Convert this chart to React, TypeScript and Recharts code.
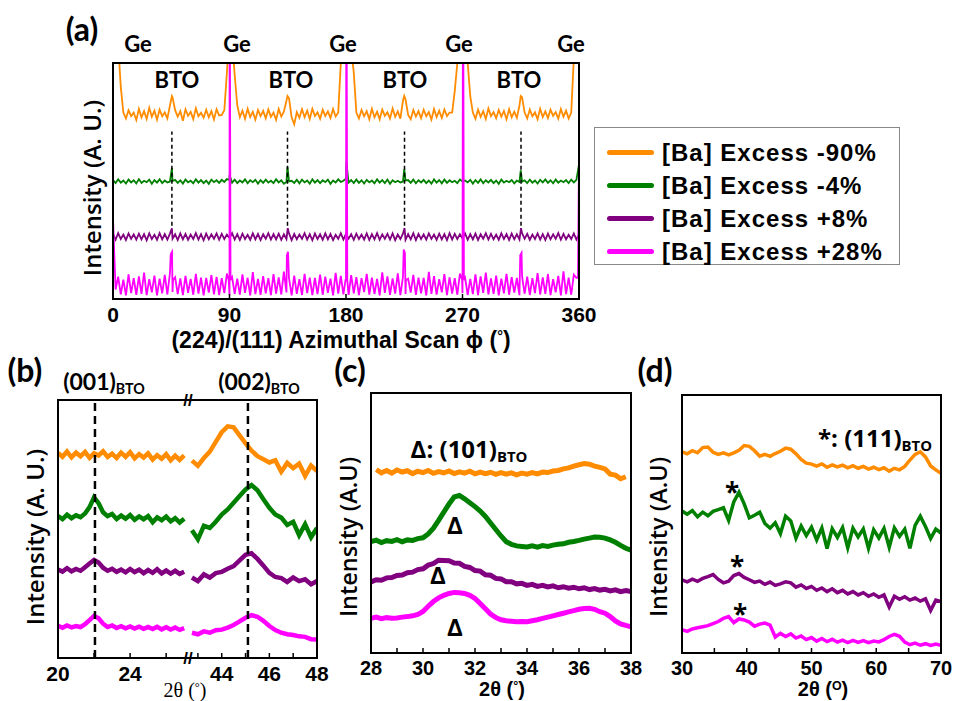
import React from "react";
import { LineChart, Line, XAxis, YAxis, ReferenceLine, Legend } from "recharts";

type Pt = { x: number; y: number | null };
type Box = { left: number; top: number; width: number; height: number };

const seriesNames = ["[Ba] Excess -90%", "[Ba] Excess -4%", "[Ba] Excess +8%", "[Ba] Excess +28%"];
const seriesColors = ["#ff8c00", "#008000", "#800080", "#ff00ff"];

// (a) azimuthal phi scan, offset traces (0 = frame bottom, 100 = frame top)
const phiGrid = [
  0, 2, 4, 6, 8, 10, 12, 14, 16, 18, 20, 22, 24, 26, 28, 30, 32, 34, 36, 38,
  40, 42, 44, 46, 48, 50, 52, 54, 56, 58, 60, 62, 64, 66, 68, 70, 72, 74, 76, 78,
  80, 82, 84, 86, 88, 90, 92, 94, 96, 98, 100, 102, 104, 106, 108, 110, 112, 114, 116, 118,
  120, 122, 124, 126, 128, 130, 132, 134, 136, 138, 140, 142, 144, 146, 148, 150, 152, 154, 156, 158,
  160, 162, 164, 166, 168, 170, 172, 174, 176, 178, 180, 182, 184, 186, 188, 190, 192, 194, 196, 198,
  200, 202, 204, 206, 208, 210, 212, 214, 216, 218, 220, 222, 224, 226, 228, 230, 232, 234, 236, 238,
  240, 242, 244, 246, 248, 250, 252, 254, 256, 258, 260, 262, 264, 266, 268, 270, 272, 274, 276, 278,
  280, 282, 284, 286, 288, 290, 292, 294, 296, 298, 300, 302, 304, 306, 308, 310, 312, 314, 316, 318,
  320, 322, 324, 326, 328, 330, 332, 334, 336, 338, 340, 342, 344, 346, 348, 350, 352, 354, 356, 358,
  360,
];
const phiOrange = [
  125, 118, 108, 90, 79, 76.5, 80, 77.5, 79, 75.8,
  80.5, 77, 79.6, 76.3, 81, 77.2, 79.8, 76, 80.2, 77.4,
  79.1, 76.5, 82, 85.5, 80, 77.2, 79.6, 75.5, 80.4, 77.6,
  79.3, 76.2, 80.8, 77.4, 78.9, 76.8, 80.2, 77, 79.6, 76.1,
  80.4, 77.8, 78, 80, 96, 114, 110, 95, 82, 77,
  79.8, 76.4, 80.6, 77.1, 79.3, 76, 80.1, 77.5, 79.7, 76.6,
  80.3, 77.2, 79, 75.9, 80.5, 77.3, 79.4, 84, 85, 77,
  74, 79.2, 76.8, 80.4, 77.1, 79.8, 76.3, 80.6, 77.5, 79.1,
  76.4, 80.2, 77.6, 79.5, 76.7, 80.5, 77.3, 79, 100, 115,
  125, 118, 106, 96, 79, 76.5, 80.1, 77.4, 79.6, 76.2,
  80.6, 77, 79.4, 76.1, 80.3, 77.6, 79.1, 76.5, 80.7, 77.2,
  79.5, 76.4, 84, 84.5, 78, 76.2, 80.1, 77.3, 79.6, 76.6,
  80.2, 77.4, 79.2, 76, 80.5, 77.1, 79.8, 76.7, 80.3, 77.5,
  79, 79, 88, 100, 112, 125, 114, 100, 86, 79,
  76.4, 80.2, 77.2, 79.6, 76.3, 80.7, 77.5, 79.2, 76.6, 80.1,
  77.3, 79.7, 76.2, 80.4, 77, 79.4, 76.8, 82, 85.5, 79,
  76.5, 80.3, 77.4, 79.1, 76.2, 80.6, 77.1, 79.5, 76.7, 80.2,
  77.6, 79.2, 76.4, 80.5, 77.2, 79.8, 76.5, 79, 102, 118,
  130,
];
const phiOrangePeaks: [number, number][] = [[45.5, 86], [90.5, 116], [134.8, 86], [225, 86], [315, 86]];
const phiGreen = [
  50.4, 49.1, 50.7, 49.3, 50.2, 48.9, 50.6, 49.4, 50.3, 49,
  50.8, 49.2, 50.1, 49.5, 50.6, 48.8, 50.4, 49.3, 50.7, 49.1,
  50.2, 49.4, 49.8, 50, 50.5, 49.2, 50.3, 48.9, 50.6, 49.4,
  50.1, 49, 50.7, 49.3, 50.4, 49.1, 50.2, 48.8, 50.6, 49.5,
  50.3, 49.2, 50.5, 49.6, 50.8, 50.4, 49.3, 50.6, 49.1, 50.2,
  49.4, 50.7, 49, 50.3, 49.5, 50.5, 48.9, 50.4, 49.2, 50.6,
  49.3, 50.1, 49.1, 50.7, 49.4, 50.3, 48.8, 49.6, 49.8, 50.1,
  49.2, 50.5, 49, 50.6, 49.4, 50.2, 48.9, 50.7, 49.3, 50.4,
  49.1, 50.3, 49.5, 50.6, 48.8, 50.2, 49.4, 50.7, 49.6, 50.1,
  51, 49.3, 50.4, 49.1, 50.6, 49.2, 50.3, 48.9, 50.5, 49.4,
  50.2, 49, 50.7, 49.3, 50.4, 49.1, 50.6, 48.8, 50.3, 49.5,
  50.1, 49.4, 49.8, 50.2, 50.4, 49.2, 50.6, 49, 50.3, 49.4,
  50.5, 49.1, 50.2, 48.9, 50.7, 49.3, 50.4, 49, 50.6, 49.2,
  50.3, 49.5, 50.1, 49.1, 50.6, 49.8, 50.2, 49.4, 50.5, 48.9,
  50.4, 49.2, 50.7, 49, 50.3, 49.4, 50.5, 49.1, 50.2, 48.8,
  50.6, 49.3, 50.1, 49.5, 50.4, 49, 50.2, 49.6, 49.7, 50.3,
  49.1, 50.6, 49.3, 50.2, 48.9, 50.5, 49.4, 50.7, 49.2, 50.3,
  49, 50.6, 49.3, 50.2, 49.5, 50.4, 49.1, 50.6, 49.4, 50.5,
  57,
];
const phiGreenPeaks: [number, number][] = [[45.5, 55.5], [90, 52.5], [134.8, 56], [180.3, 58], [225, 55], [315, 54.5]];
const phiPurple = [
  27.6, 25.1, 27.9, 25.4, 27.3, 25, 27.8, 25.5, 27.4, 25.2,
  27.7, 25.3, 27.5, 24.9, 27.8, 25.4, 27.2, 25.1, 27.9, 25.3,
  27.5, 25.2, 27.7, 25.5, 27.4, 25, 27.8, 25.3, 27.6, 25.1,
  27.3, 25.4, 27.9, 25.2, 27.5, 24.9, 27.7, 25.3, 27.4, 25.5,
  27.8, 25.1, 27.6, 25.4, 27.3, 25.8, 27.9, 25.2, 27.5, 25,
  27.7, 25.4, 27.2, 25.1, 27.8, 25.3, 27.6, 25, 27.4, 25.5,
  27.9, 25.2, 27.5, 25.3, 27.7, 25.1, 27.4, 25.4, 27.8, 25,
  27.6, 25.3, 27.3, 25.5, 27.9, 25.2, 27.5, 24.9, 27.7, 25.4,
  27.4, 25.1, 27.8, 25.3, 27.6, 25, 27.2, 25.5, 27.9, 25.2,
  27.6, 25.6, 27.5, 25.1, 27.7, 25.4, 27.3, 25.2, 27.8, 25,
  27.5, 25.3, 27.9, 25.1, 27.4, 25.5, 27.6, 25.2, 27.8, 24.9,
  27.3, 25.4, 27.7, 25.1, 27.5, 25.3, 27.9, 25, 27.6, 25.4,
  27.4, 25.2, 27.8, 25.5, 27.3, 25.1, 27.7, 25.3, 27.5, 25,
  27.9, 25.2, 27.6, 25.4, 27.4, 25.7, 27.8, 25.1, 27.5, 25.3,
  27.7, 25, 27.4, 25.5, 27.9, 25.2, 27.6, 25.3, 27.3, 25.1,
  27.8, 25.4, 27.5, 25, 27.7, 25.3, 27.4, 25.2, 27.9, 25.5,
  27.6, 25.1, 27.3, 25.4, 27.8, 25.2, 27.5, 25, 27.7, 25.3,
  27.4, 25.5, 27.9, 25.1, 27.6, 25.3, 27.2, 25.4, 27.8, 25.2,
  27.5,
];
const phiPurplePeaks: [number, number][] = [[45.5, 30], [135, 30], [225.2, 30], [315.2, 30]];
const phiPink = [
  34, 4, 9.5, 2, 8.2, 1.5, 10.4, 2.5, 8.8, 1.8,
  9.6, 2.2, 11.2, 1.6, 8.4, 2.8, 9.9, 1.5, 8.6, 2.4,
  10.2, 1.9, 11, 3, 9.2, 2.1, 8.7, 1.6, 9.8, 2.6,
  8.5, 1.8, 10.6, 2.3, 9.1, 1.5, 8.9, 2.7, 10.1, 2,
  9.4, 1.7, 8.8, 2.5, 10.8, 1.6, 9.3, 2.2, 8.6, 1.9,
  10.4, 2.6, 9, 1.5, 11.4, 2.1, 8.5, 1.8, 9.7, 2.4,
  8.8, 1.6, 10.5, 2.3, 9.2, 1.9, 11.6, 2.8, 8.7, 1.5,
  9.9, 2.2, 8.4, 1.7, 10.7, 2.5, 9.1, 1.6, 8.9, 2.1,
  10.3, 1.8, 9.5, 2.6, 8.6, 1.5, 11.1, 2.3, 9.8, 2,
  8, 1.7, 10.1, 2.4, 9.3, 1.6, 8.8, 2.9, 10.6, 1.9,
  9, 2.2, 8.5, 1.5, 11.3, 2.6, 9.6, 1.8, 8.7, 2.3,
  10.9, 1.6, 9.4, 2.1, 8.6, 2.7, 10.2, 1.7, 9.1, 2.4,
  8.9, 1.5, 11.5, 2.2, 9.7, 1.9, 8.4, 2.8, 10.5, 1.6,
  9.2, 2.3, 8.8, 1.8, 10.8, 2.5, 9, 1.7, 8.5, 2.1,
  10.4, 1.6, 9.6, 2.6, 11.2, 1.9, 8.7, 2.2, 9.9, 1.5,
  8.6, 2.4, 10.7, 1.8, 9.3, 2.7, 8.9, 1.6, 10.1, 2.3,
  9.5, 1.7, 8.8, 2.5, 11, 1.9, 9.2, 2.2, 10.6, 1.6,
  8.4, 2.8, 9.8, 1.5, 11.7, 2.1, 9, 1.8, 10.3, 9,
  60,
];
const phiPinkPeaks: [number, number][] = [
  [44.6, 19], [45.6, 20], [46.4, 8], [89.4, 8], [90.1, 160], [90.8, 8],
  [134.3, 18.5], [135.2, 20], [135.9, 9], [179.6, 8], [180.3, 160], [181, 8],
  [224.6, 21], [225.5, 19.5], [226.3, 8], [269.7, 8], [270.4, 160], [271.1, 8],
  [314.6, 18.5], [315.6, 19.5], [316.4, 8], [359.2, 9],
];
const phiTicks = [0, 90, 180, 270, 360];
const btoPhi = [45.5, 134.8, 225.2, 315.2];
const geLabelX = [138, 237, 343, 459, 571];
const btoLabelX = [177, 291, 405, 519];

// (b) 2theta, broken axis: 20-27 and 42.75-48
const bLeftGrid = [
  20, 20.25, 20.5, 20.75, 21, 21.25, 21.5, 21.75, 22, 22.25, 22.5, 22.75, 23, 23.25, 23.5, 23.75, 24, 24.25, 24.5, 24.75,
  25, 25.25, 25.5, 25.75, 26, 26.25, 26.5, 26.75, 27,
];
const bRightGrid = [
  42.75, 43, 43.25, 43.5, 43.75, 44, 44.25, 44.5, 44.75, 45, 45.25, 45.5, 45.75, 46, 46.25, 46.5, 46.75, 47, 47.25, 47.5,
  47.75, 48,
];
const bLeftOrange = [79.5, 78, 80, 77.8, 79.6, 78.2, 79.9, 77.6, 79.4, 78.5, 80.1, 77.9, 79.2, 77.5, 79.6, 78, 79.8, 77.4, 79, 77.7, 79.3, 76.9, 78.6, 77.2, 79, 76.6, 78.4, 76.8, 78.5];
const bLeftGreen = [55, 53.8, 55.5, 54.2, 55.3, 54.6, 56, 58.5, 62.3, 60, 56.5, 55, 55.8, 53.9, 55.2, 54, 55.4, 53.6, 54.9, 53.8, 55, 52.6, 54.5, 53.4, 54.8, 53, 54.2, 52.5, 54];
const bLeftPurple = [34.3, 33.5, 34.8, 33.6, 34.5, 33.8, 35.2, 36.6, 38, 37, 35, 33.8, 34.6, 33.4, 34.3, 33.2, 34.5, 33.3, 34.2, 32.9, 34.1, 33, 34.4, 32.8, 33.9, 32.7, 33.8, 32.6, 33.4];
const bLeftPink = [12.5, 11.7, 12.6, 11.9, 12.4, 12, 13.1, 14.7, 16.3, 15.4, 13.3, 12, 12.6, 11.6, 12.3, 11.5, 12.2, 11.4, 12.1, 11.3, 12, 11.2, 12.1, 11.1, 11.9, 11, 11.8, 10.9, 11.6];
const bRightOrange = [76.5, 74.5, 77.5, 80, 83.8, 87.5, 89.8, 89.4, 86.3, 83.2, 80.4, 78.2, 77, 75.8, 76.6, 72.2, 75.6, 73.6, 75.3, 70.6, 74.6, 72.4];
const bRightGreen = [49.5, 46, 51.2, 50.4, 52.8, 55.6, 57.6, 60.2, 62.8, 65.3, 67, 65, 61.5, 58.2, 55.6, 54.4, 51.6, 52.8, 47.6, 51.8, 46.8, 50.4];
const bRightPurple = [31.2, 29.8, 32.4, 31.2, 32.9, 33.4, 34.6, 35.6, 37.8, 40, 40.6, 38.4, 35.8, 33, 31.4, 31, 29.5, 31.2, 29.8, 30.5, 28.6, 29.8];
const bRightPink = [9.8, 9.2, 10.3, 9.8, 10.8, 11, 11.8, 12.8, 14.2, 15.6, 16.6, 16, 14.4, 12.4, 10.8, 9.8, 9.2, 8.9, 8.4, 8.2, 7.3, 7.2];
const bPeaks = [22.05, 45.1];

// (c) 2theta 28-38
const cGrid = [
  28, 28.2, 28.4, 28.6, 28.8, 29, 29.2, 29.4, 29.6, 29.8, 30, 30.2, 30.4, 30.6, 30.8, 31, 31.2, 31.4, 31.6, 31.8,
  32, 32.2, 32.4, 32.6, 32.8, 33, 33.2, 33.4, 33.6, 33.8, 34, 34.2, 34.4, 34.6, 34.8, 35, 35.2, 35.4, 35.6, 35.8,
  36, 36.2, 36.4, 36.6, 36.8, 37, 37.2, 37.4, 37.6, 37.8, 38,
];
const cOrange = [
  null, 70.5, 69.3, 70.2, 69.2, 70.4, 69.6, 70.1, 69, 69.9,
  69.4, 70.2, 69.1, 69.8, 69.3, 70, 69, 69.7, 69.2, 69.9,
  68.9, 69.6, 69, 69.5, 68.7, 69.4, 68.8, 69.3, 68.5, 69.2,
  68.8, 69.4, 68.9, 69.6, 69.4, 70, 70.2, 70.8, 71.2, 71.9,
  72.4, 72.9, 72.6, 71.9, 71.4, 70.8, 68.8, 68.4, 67, 67.8,
  null,
];
const cGreen = [
  42.8, 43.4, 42.5, 43.2, 42.9, 43.6, 42.8, 43.5, 43.3, 44,
  44.3, 45.8, 48, 51, 54.2, 57.3, 60, 60.6, 59.3, 57.8,
  56.3, 54.6, 52.5, 50, 47.5, 45, 42.8, 41.8, 41.2, 41,
  40.8, 41.2, 40.7, 41.3, 41, 41.5, 41.8, 42, 42.6, 42.9,
  43.3, 43.8, 44.2, 44.6, 44.5, 44.2, 43.5, 42.6, 41.4, 40.3,
  39.5,
];
const cPurple = [
  27.3, 28.2, 28, 28.9, 29, 29.8, 30, 30.9, 31.1, 32.1,
  32.4, 33.8, 34.4, 35.7, 35.6, 35.5, 34.6, 34.5, 33.3, 32.9,
  31.7, 31.5, 30.1, 29.9, 28.7, 28.5, 27.4, 27.4, 26.6, 26.8,
  26, 26.4, 25.6, 26, 25.4, 25.8, 25.1, 25.5, 24.9, 25.3,
  24.7, 25.1, 24.4, 24.8, 24.2, 24.5, 23.9, 24.3, 23.6, 24,
  23.6,
];
const cPink = [
  13.3, 13.8, 13.2, 13.6, 13.4, 13.5, 13.8, 14, 14.3, 14.8,
  16, 18, 19.8, 21.2, 22.2, 22.9, 23.3, 23.2, 22.9, 22.2,
  21, 19, 17, 15, 13.6, 12.8, 12.4, 12.2, 12, 12.1,
  12, 12.4, 12.8, 13.3, 13.8, 14.3, 14.8, 15.3, 15.8, 16.3,
  16.8, 17.1, 17.2, 16.8, 15.9, 15.3, 14, 12.3, 11.2, 10.6,
  10.1,
];

// (d) 2theta 30-70
const dGrid = [
  30, 30.8, 31.6, 32.4, 33.2, 34, 34.8, 35.6, 36.4, 37.2, 38, 38.8, 39.6, 40.4, 41.2, 42, 42.8, 43.6, 44.4, 45.2,
  46, 46.8, 47.6, 48.4, 49.2, 50, 50.8, 51.6, 52.4, 53.2, 54, 54.8, 55.6, 56.4, 57.2, 58, 58.8, 59.6, 60.4, 61.2,
  62, 62.8, 63.6, 64.4, 65.2, 66, 66.8, 67.6, 68.4, 69.2, 70,
];
const dOrange = [
  78, 77.2, 78.4, 77.6, 79.6, 79.8, 77.8, 77, 77.6, 76.8,
  77.6, 78.6, 80.4, 80.1, 78.4, 76.3, 77, 76.2, 77.3, 78.2,
  79.4, 79, 77.2, 75, 73.6, 73.2, 72.4, 73.3, 72, 72.9,
  72.1, 72.8, 71.8, 72.6, 71.6, 72.3, 71.3, 72, 71.1, 71.8,
  70.5, 71.6, 71, 72.3, 74.8, 77, 78, 76, 72.5, 71,
  69.6,
];
const dGreen = [
  55, 53.8, 55.2, 52.8, 54.6, 53.2, 54.9, 55.6, 56.3, 51.4,
  58.6, 62.3, 57.8, 52.4, 53.4, 54.6, 50.2, 48.4, 50.5, 46.3,
  53, 51.2, 44.5, 49.2, 45.5, 48.8, 43.8, 48.5, 40.5, 48.2,
  44.8, 48.6, 40.8, 48.4, 45, 48.1, 40.6, 47.8, 44.6, 48.3,
  41, 48.5, 45.2, 48, 40.6, 49.5, 53, 49, 44.4, 48,
  46.5,
];
const dPurple = [
  28.3, 27.6, 28.6, 27.8, 28.9, 29.6, 30.4, 28.5, 27.2, 27.8,
  30, 30.8, 29.3, 28.4, 27.4, 27.9, 26.6, 27.5, 26.2, 26.8,
  27.6, 27.2, 25.5, 26.4, 25, 25.8, 24.3, 25.2, 23.8, 24.9,
  23.4, 24.3, 22.9, 23.8, 22.5, 23.4, 22, 22.9, 21.6, 22.5,
  17.8, 22, 20.8, 21.8, 20.5, 21.3, 20.1, 21, 16.5, 20.5,
  19.9,
];
const dPink = [
  9, 8.4, 9.3, 9.8, 10.2, 10.6, 11.4, 12.2, 13.4, 14.1,
  11.8, 13.2, 12.8, 12, 10.4, 11.2, 11.6, 10.8, 6.2, 7.6,
  6.4, 7.4, 5.8, 6.6, 5.2, 6, 4.6, 5.6, 4.4, 5.3,
  4.2, 5, 4, 4.9, 4.1, 4.8, 4, 4.6, 4.3, 5.2,
  6.4, 7.2, 6.5, 4.2, 3.2, 3.8, 3, 3.6, 2.9, 3.5,
  3,
];

const yMinor = [0, 4, 8, 12, 16, 20, 24, 28, 32, 36, 40, 44, 48, 52, 56, 60, 64, 68, 72, 76, 80, 84, 88, 92, 96, 100];

const SANS = "'Liberation Sans', Arial, sans-serif";
const CAL = "Lato, 'Open Sans', sans-serif";
const OPEN = "'Open Sans', sans-serif";
const PAD = { left: 24, right: 24, top: 8, bottom: 44 };

function toPoints(xs: number[], ys: (number | null)[], extra: [number, number][] = []): Pt[] {
  const pts: Pt[] = xs.map((x, i) => ({ x, y: ys[i] }));
  extra.forEach(([x, y]) => pts.push({ x, y }));
  return pts.sort((a, b) => a.x - b.x);
}

type Series = { data: Pt[]; color: string; name: string };
const bundle = (sets: Pt[][]): Series[] => sets.map((data, i) => ({ data, color: seriesColors[i], name: seriesNames[i] }));

interface PanelProps {
  box: Box;
  domain: [number, number];
  ticks: number[];
  labels: number[];
  lines: Series[];
  stroke: number;
  tickFont?: number;
  extraRight?: number;
  frame?: boolean;
  leftTicks?: boolean;
  children?: React.ReactNode;
}

function Panel({ box, domain, ticks, labels, lines, stroke, tickFont = 21, extraRight = 0, frame = true, leftTicks = true, children }: PanelProps) {
  const width = box.width + PAD.left + PAD.right + extraRight;
  const height = box.height + PAD.top + PAD.bottom;
  return (
    <div style={{ position: "absolute", left: box.left - PAD.left, top: box.top - PAD.top }}>
      <LineChart
        width={width}
        height={height}
        margin={{ top: PAD.top, right: PAD.right + extraRight, bottom: 0, left: PAD.left - 1 }}
      >
        <XAxis
          type="number"
          dataKey="x"
          domain={domain}
          ticks={ticks}
          interval={0}
          allowDataOverflow
          height={PAD.bottom}
          axisLine={false}
          tickSize={-5}
          tickMargin={13}
          tickLine={{ stroke: "#000", strokeWidth: 1.5 }}
          tickFormatter={(v: number) => (labels.includes(v) ? String(v) : "")}
          tick={{ fill: "#000", fontSize: tickFont, fontWeight: 700, fontFamily: SANS }}
        />
        <YAxis
          type="number"
          domain={[0, 100]}
          ticks={yMinor}
          interval={0}
          allowDataOverflow
          width={1}
          axisLine={false}
          tick={false}
          tickSize={-3}
          tickLine={leftTicks ? { stroke: "#000", strokeWidth: 1.5 } : false}
        />
        {lines.map((l) => (
          <Line
            key={l.name}
            data={l.data}
            dataKey="y"
            name={l.name}
            stroke={l.color}
            strokeWidth={stroke}
            dot={false}
            isAnimationActive={false}
          />
        ))}
        {children}
      </LineChart>
      {frame && (
        <div
          style={{
            position: "absolute",
            left: PAD.left - 1,
            top: PAD.top - 1,
            width: box.width + 2,
            height: box.height + 2,
            border: "2px solid #000",
            boxSizing: "border-box",
            pointerEvents: "none",
          }}
        />
      )}
    </div>
  );
}

function Tag({ x, y, size = 21, font = CAL, weight = 700, rotate, lh = 1, children }: {
  x: number; y: number; size?: number; font?: string; weight?: number; rotate?: number; lh?: number; children: React.ReactNode;
}) {
  return (
    <div
      style={{
        position: "absolute",
        left: x,
        top: y,
        transform: `translate(-50%, -50%)${rotate ? ` rotate(${rotate}deg)` : ""}`,
        fontSize: size,
        fontFamily: font,
        fontWeight: weight,
        lineHeight: lh,
        whiteSpace: "nowrap",
        color: "#000",
      }}
    >
      {children}
    </div>
  );
}

const Sub = ({ children }: { children: React.ReactNode }) => (
  <span style={{ fontSize: "0.62em", verticalAlign: "-0.3em", lineHeight: 0 }}>{children}</span>
);
const Sup = ({ children }: { children: React.ReactNode }) => (
  <span style={{ fontSize: "0.62em", verticalAlign: "0.45em", lineHeight: 0 }}>{children}</span>
);

function LegendBox({ payload }: any) {
  const items = [...(payload ?? [])].sort(
    (a: any, b: any) => seriesNames.indexOf(a.value) - seriesNames.indexOf(b.value)
  );
  return (
    <div
      style={{
        width: 306,
        height: 138,
        border: "1px solid #888",
        boxSizing: "border-box",
        padding: "8px 0 0 12px",
        background: "#fff",
      }}
    >
      {items.map((p: any) => (
        <div key={p.value} style={{ display: "flex", alignItems: "center", height: 33 }}>
          <span style={{ width: 47, height: 5, borderRadius: 3, background: p.color, marginRight: 8, flexShrink: 0 }} />
          <span style={{ fontFamily: SANS, fontWeight: 700, fontSize: 24, letterSpacing: 1, color: "#000" }}>{p.value}</span>
        </div>
      ))}
    </div>
  );
}

export default function App() {
  const boxA: Box = { left: 113, top: 63, width: 466, height: 236 };
  const boxBL: Box = { left: 58, top: 400, width: 128, height: 258 };
  const boxBR: Box = { left: 186, top: 400, width: 131, height: 258 };
  const boxC: Box = { left: 371, top: 393, width: 260, height: 260 };
  const boxD: Box = { left: 682, top: 395, width: 259, height: 258 };

  const linesA = bundle([
    toPoints(phiGrid, phiOrange, phiOrangePeaks),
    toPoints(phiGrid, phiGreen, phiGreenPeaks),
    toPoints(phiGrid, phiPurple, phiPurplePeaks),
    toPoints(phiGrid, phiPink, phiPinkPeaks),
  ]);
  const linesBL = bundle([bLeftOrange, bLeftGreen, bLeftPurple, bLeftPink].map((v) => toPoints(bLeftGrid, v)));
  const linesBR = bundle([bRightOrange, bRightGreen, bRightPurple, bRightPink].map((v) => toPoints(bRightGrid, v)));
  const linesC = bundle([cOrange, cGreen, cPurple, cPink].map((v) => toPoints(cGrid, v)));
  const linesD = bundle([dOrange, dGreen, dPurple, dPink].map((v) => toPoints(dGrid, v)));

  const legendLeft = 594 - (boxA.left - PAD.left);
  const legendTop = 127 - (boxA.top - PAD.top);
  const dash = { stroke: "#000", strokeWidth: 2.5, strokeDasharray: "8 5" };
  const yLabel = { font: OPEN, weight: 600, rotate: -90 };

  return (
    <div style={{ position: "absolute", left: 0, top: 0, width: 953, height: 701, background: "#fff", overflow: "hidden" }}>
      {/* (a) */}
      <Panel
        box={boxA}
        domain={[0, 360]}
        ticks={phiTicks}
        labels={phiTicks}
        lines={linesA}
        stroke={1.8}
        extraRight={953 - (boxA.left + boxA.width + PAD.right)}
      >
        {btoPhi.map((x) => (
          <ReferenceLine
            key={x}
            segment={[{ x, y: 31 }, { x, y: 71 }]}
            stroke="#000"
            strokeWidth={1.5}
            strokeDasharray="4 3"
          />
        ))}
        <Legend
          layout="vertical"
          align="center"
          verticalAlign="middle"
          content={<LegendBox />}
          wrapperStyle={{ left: legendLeft, top: legendTop, width: 306 }}
        />
      </Panel>
      <Tag x={82} y={29} size={32}>(a)</Tag>
      {geLabelX.map((x) => (
        <Tag key={x} x={x} y={44} size={22}>Ge</Tag>
      ))}
      {btoLabelX.map((x) => (
        <Tag key={x} x={x} y={80} size={22}>BTO</Tag>
      ))}
      <Tag x={92} y={188} size={24} {...yLabel}>Intensity (A. U.)</Tag>
      <Tag x={341} y={340} size={23} font={SANS}>
        (224)/(111) Azimuthal Scan ϕ (<Sup>°</Sup>)
      </Tag>

      {/* (b) */}
      <Panel box={boxBL} domain={[20, 27.1]} ticks={[20, 22, 24, 26]} labels={[20, 24]} lines={linesBL} stroke={4.5} frame={false}>
        <ReferenceLine x={bPeaks[0]} {...dash} />
      </Panel>
      <Panel box={boxBR} domain={[42.5, 48]} ticks={[43, 44, 45, 46, 47, 48]} labels={[44, 46, 48]} lines={linesBR} stroke={4.5} frame={false} leftTicks={false}>
        <ReferenceLine x={bPeaks[1]} {...dash} />
      </Panel>
      <div
        style={{
          position: "absolute",
          left: boxBL.left - 1,
          top: boxBL.top - 1,
          width: boxBL.width + boxBR.width + 2,
          height: boxBL.height + 2,
          border: "2px solid #000",
          boxSizing: "border-box",
        }}
      />
      <Tag x={188} y={400} size={17} font={SANS} weight={700}>//</Tag>
      <Tag x={188} y={658} size={17} font={SANS} weight={700}>//</Tag>
      <Tag x={25} y={370} size={32}>(b)</Tag>
      <Tag x={104} y={381} size={23}>(001)<Sub>BTO</Sub></Tag>
      <Tag x={259} y={381} size={23}>(002)<Sub>BTO</Sub></Tag>
      <Tag x={35} y={537} size={24} {...yLabel}>Intensity (A. U.)</Tag>
      <Tag x={185} y={690} size={20} lh={0.9} font="'Liberation Serif', 'Times New Roman', serif" weight={400}>
        2θ (<Sup>°</Sup>)
      </Tag>

      {/* (c) */}
      <Panel
        box={boxC}
        domain={[28, 38]}
        ticks={[28, 29, 30, 31, 32, 33, 34, 35, 36, 37, 38]}
        labels={[28, 30, 32, 34, 36, 38]}
        lines={linesC}
        stroke={5}
        tickFont={20}
      />
      <Tag x={350} y={370} size={32}>(c)</Tag>
      <Tag x={469} y={449} size={24} font={OPEN}>Δ: (101)<Sub>BTO</Sub></Tag>
      <Tag x={455} y={525} size={24} font={OPEN}>Δ</Tag>
      <Tag x={438} y={575} size={24} font={OPEN}>Δ</Tag>
      <Tag x={455} y={627} size={24} font={OPEN}>Δ</Tag>
      <Tag x={349} y={537} size={23.5} {...yLabel}>Intensity (A.U)</Tag>
      <Tag x={502} y={689} size={20} lh={0.85} font={SANS}>
        2θ (<Sup>°</Sup>)
      </Tag>

      {/* (d) */}
      <Panel
        box={boxD}
        domain={[30, 70]}
        ticks={[30, 35, 40, 45, 50, 55, 60, 65, 70]}
        labels={[30, 40, 50, 60, 70]}
        lines={linesD}
        stroke={3.5}
        tickFont={20}
      />
      <Tag x={655} y={370} size={32}>(d)</Tag>
      <Tag x={875} y={438} size={24} font={OPEN}>*: (111)<Sub>BTO</Sub></Tag>
      <Tag x={732} y={492} size={26} font={OPEN}>*</Tag>
      <Tag x={737} y={566} size={26} font={OPEN}>*</Tag>
      <Tag x={740} y={614} size={26} font={OPEN}>*</Tag>
      <Tag x={659} y={537} size={23.5} {...yLabel}>Intensity (A.U)</Tag>
      <Tag x={823} y={689} size={20} lh={0.85} font={SANS}>
        2θ (<Sup>O</Sup>)
      </Tag>
    </div>
  );
}
